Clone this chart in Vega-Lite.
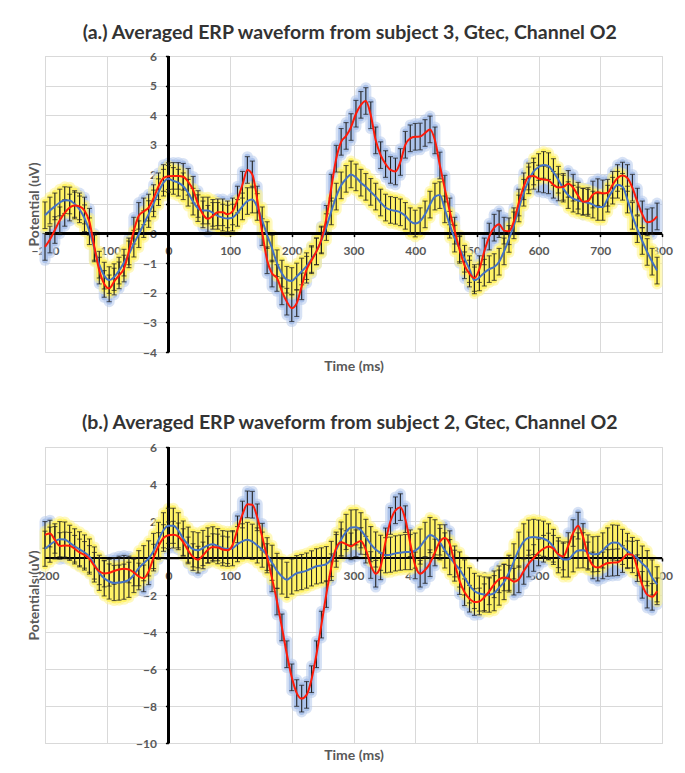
{
"$schema": "https://vega.github.io/schema/vega-lite/v6.json",
"background": "white",
"padding": {"left": 26, "top": 22, "right": 5, "bottom": 5},
"spacing": 38,
"config": {
  "font": "Lato",
  "view": {"stroke": "#D9D9D9", "strokeWidth": 1},
  "axis": {"gridColor": "#D9D9D9", "gridWidth": 1, "domainColor": "#000000", "domainWidth": 1.6, "tickColor": "#000000", "tickWidth": 1.5, "labelFont": "Lato", "labelFontSize": 12, "labelFontWeight": "bold", "labelColor": "#595959", "titleFont": "Lato", "titleFontSize": 14, "titleFontWeight": "bold", "titleColor": "#595959", "labelFlush": false, "labelOverlap": false, "labelBound": false},
  "title": {"font": "Lato", "fontSize": 19.5, "fontWeight": "bold", "color": "#333333", "anchor": "middle", "frame": "bounds"}
},
"datasets": {
"a": [
{"t":-200,"r":-0.45,"b":0.62,"re":0.45,"be":0.45},
{"t":-192,"r":-0.2,"b":0.78,"re":0.45,"be":0.45},
{"t":-184,"r":0.12,"b":0.92,"re":0.45,"be":0.45},
{"t":-176,"r":0.45,"b":1.05,"re":0.45,"be":0.45},
{"t":-168,"r":0.7,"b":1.13,"re":0.45,"be":0.45},
{"t":-160,"r":0.88,"b":1.12,"re":0.45,"be":0.45},
{"t":-152,"r":0.95,"b":1.0,"re":0.45,"be":0.45},
{"t":-144,"r":0.92,"b":0.82,"re":0.45,"be":0.45},
{"t":-136,"r":0.78,"b":0.52,"re":0.45,"be":0.45},
{"t":-128,"r":0.4,"b":0.08,"re":0.45,"be":0.45},
{"t":-120,"r":-0.45,"b":-0.5,"re":0.45,"be":0.45},
{"t":-112,"r":-1.25,"b":-1.05,"re":0.45,"be":0.45},
{"t":-104,"r":-1.7,"b":-1.42,"re":0.45,"be":0.45},
{"t":-96,"r":-1.85,"b":-1.57,"re":0.45,"be":0.45},
{"t":-88,"r":-1.62,"b":-1.47,"re":0.45,"be":0.45},
{"t":-80,"r":-1.41,"b":-1.25,"re":0.45,"be":0.45},
{"t":-72,"r":-1.18,"b":-0.98,"re":0.45,"be":0.45},
{"t":-64,"r":-0.6,"b":-0.7,"re":0.45,"be":0.45},
{"t":-56,"r":0.1,"b":-0.34,"re":0.45,"be":0.45},
{"t":-48,"r":0.6,"b":-0.02,"re":0.45,"be":0.45},
{"t":-40,"r":0.75,"b":0.32,"re":0.45,"be":0.45},
{"t":-32,"r":0.88,"b":0.66,"re":0.45,"be":0.45},
{"t":-24,"r":1.2,"b":1.02,"re":0.45,"be":0.45},
{"t":-16,"r":1.6,"b":1.4,"re":0.45,"be":0.45},
{"t":-8,"r":1.88,"b":1.72,"re":0.45,"be":0.45},
{"t":0,"r":1.94,"b":1.85,"re":0.45,"be":0.45},
{"t":8,"r":1.95,"b":1.78,"re":0.45,"be":0.45},
{"t":16,"r":1.95,"b":1.72,"re":0.45,"be":0.45},
{"t":24,"r":1.92,"b":1.6,"re":0.45,"be":0.45},
{"t":32,"r":1.75,"b":1.38,"re":0.45,"be":0.45},
{"t":40,"r":1.48,"b":1.08,"re":0.45,"be":0.45},
{"t":48,"r":1.0,"b":0.86,"re":0.45,"be":0.45},
{"t":56,"r":0.65,"b":0.78,"re":0.45,"be":0.45},
{"t":64,"r":0.5,"b":0.78,"re":0.45,"be":0.45},
{"t":72,"r":0.6,"b":0.7,"re":0.45,"be":0.45},
{"t":80,"r":0.72,"b":0.6,"re":0.45,"be":0.45},
{"t":88,"r":0.72,"b":0.54,"re":0.45,"be":0.45},
{"t":96,"r":0.65,"b":0.51,"re":0.45,"be":0.45},
{"t":104,"r":0.75,"b":0.54,"re":0.45,"be":0.45},
{"t":112,"r":1.15,"b":0.7,"re":0.45,"be":0.45},
{"t":120,"r":1.65,"b":0.92,"re":0.45,"be":0.45},
{"t":128,"r":2.15,"b":1.1,"re":0.45,"be":0.45},
{"t":136,"r":2.0,"b":1.15,"re":0.45,"be":0.45},
{"t":144,"r":1.15,"b":0.9,"re":0.45,"be":0.45},
{"t":152,"r":0.05,"b":0.45,"re":0.45,"be":0.45},
{"t":160,"r":-0.9,"b":-0.05,"re":0.45,"be":0.45},
{"t":168,"r":-1.35,"b":-0.5,"re":0.45,"be":0.45},
{"t":176,"r":-1.5,"b":-1.0,"re":0.45,"be":0.45},
{"t":184,"r":-1.95,"b":-1.35,"re":0.45,"be":0.45},
{"t":192,"r":-2.3,"b":-1.56,"re":0.45,"be":0.45},
{"t":200,"r":-2.52,"b":-1.6,"re":0.45,"be":0.45},
{"t":208,"r":-2.35,"b":-1.45,"re":0.45,"be":0.45},
{"t":216,"r":-1.78,"b":-1.28,"re":0.45,"be":0.45},
{"t":224,"r":-1.22,"b":-1.1,"re":0.45,"be":0.45},
{"t":232,"r":-0.9,"b":-0.86,"re":0.45,"be":0.45},
{"t":240,"r":-0.6,"b":-0.6,"re":0.45,"be":0.45},
{"t":248,"r":-0.2,"b":-0.23,"re":0.45,"be":0.45},
{"t":256,"r":0.5,"b":0.22,"re":0.45,"be":0.45},
{"t":264,"r":1.55,"b":0.75,"re":0.45,"be":0.45},
{"t":272,"r":2.53,"b":1.25,"re":0.45,"be":0.45},
{"t":280,"r":3.1,"b":1.63,"re":0.45,"be":0.45},
{"t":288,"r":3.3,"b":1.85,"re":0.45,"be":0.45},
{"t":296,"r":3.6,"b":2.0,"re":0.45,"be":0.45},
{"t":304,"r":4.05,"b":1.9,"re":0.45,"be":0.45},
{"t":312,"r":4.35,"b":1.72,"re":0.45,"be":0.45},
{"t":320,"r":4.48,"b":1.58,"re":0.45,"be":0.45},
{"t":328,"r":4.0,"b":1.41,"re":0.45,"be":0.45},
{"t":336,"r":3.15,"b":1.25,"re":0.45,"be":0.45},
{"t":344,"r":2.65,"b":1.05,"re":0.45,"be":0.45},
{"t":352,"r":2.35,"b":0.88,"re":0.45,"be":0.45},
{"t":360,"r":2.15,"b":0.8,"re":0.45,"be":0.45},
{"t":368,"r":2.1,"b":0.77,"re":0.45,"be":0.45},
{"t":376,"r":2.42,"b":0.72,"re":0.45,"be":0.45},
{"t":384,"r":3.0,"b":0.6,"re":0.45,"be":0.45},
{"t":392,"r":3.22,"b":0.42,"re":0.45,"be":0.45},
{"t":400,"r":3.27,"b":0.34,"re":0.45,"be":0.45},
{"t":408,"r":3.28,"b":0.42,"re":0.45,"be":0.45},
{"t":416,"r":3.4,"b":0.65,"re":0.45,"be":0.45},
{"t":424,"r":3.52,"b":0.98,"re":0.45,"be":0.45},
{"t":432,"r":3.15,"b":1.25,"re":0.45,"be":0.45},
{"t":440,"r":2.3,"b":1.3,"re":0.45,"be":0.45},
{"t":448,"r":1.52,"b":0.82,"re":0.45,"be":0.45},
{"t":456,"r":0.75,"b":0.3,"re":0.45,"be":0.45},
{"t":464,"r":0.1,"b":-0.17,"re":0.45,"be":0.45},
{"t":472,"r":-0.55,"b":-0.5,"re":0.45,"be":0.45},
{"t":480,"r":-1.07,"b":-0.85,"re":0.45,"be":0.45},
{"t":488,"r":-1.35,"b":-1.2,"re":0.45,"be":0.45},
{"t":496,"r":-1.5,"b":-1.58,"re":0.45,"be":0.45},
{"t":504,"r":-1.2,"b":-1.48,"re":0.45,"be":0.45},
{"t":512,"r":-0.6,"b":-1.32,"re":0.45,"be":0.45},
{"t":520,"r":-0.1,"b":-1.2,"re":0.45,"be":0.45},
{"t":528,"r":0.2,"b":-1.13,"re":0.45,"be":0.45},
{"t":536,"r":0.32,"b":-0.95,"re":0.45,"be":0.45},
{"t":544,"r":0.1,"b":-0.6,"re":0.45,"be":0.45},
{"t":552,"r":0.08,"b":-0.18,"re":0.45,"be":0.45},
{"t":560,"r":0.42,"b":0.28,"re":0.45,"be":0.45},
{"t":568,"r":1.05,"b":0.85,"re":0.45,"be":0.45},
{"t":576,"r":1.6,"b":1.38,"re":0.45,"be":0.45},
{"t":584,"r":1.93,"b":1.8,"re":0.45,"be":0.45},
{"t":592,"r":1.95,"b":2.1,"re":0.45,"be":0.45},
{"t":600,"r":1.86,"b":2.25,"re":0.45,"be":0.45},
{"t":608,"r":1.83,"b":2.32,"re":0.45,"be":0.45},
{"t":616,"r":1.8,"b":2.28,"re":0.45,"be":0.45},
{"t":624,"r":1.65,"b":2.08,"re":0.45,"be":0.45},
{"t":632,"r":1.56,"b":1.82,"re":0.45,"be":0.45},
{"t":640,"r":1.58,"b":1.52,"re":0.45,"be":0.45},
{"t":648,"r":1.68,"b":1.3,"re":0.45,"be":0.45},
{"t":656,"r":1.55,"b":1.18,"re":0.45,"be":0.45},
{"t":664,"r":1.28,"b":1.12,"re":0.45,"be":0.45},
{"t":672,"r":1.08,"b":1.08,"re":0.45,"be":0.45},
{"t":680,"r":1.1,"b":1.04,"re":0.45,"be":0.45},
{"t":688,"r":1.32,"b":0.98,"re":0.45,"be":0.45},
{"t":696,"r":1.4,"b":0.9,"re":0.45,"be":0.45},
{"t":704,"r":1.36,"b":0.9,"re":0.45,"be":0.45},
{"t":712,"r":1.38,"b":1.18,"re":0.45,"be":0.45},
{"t":720,"r":1.65,"b":1.45,"re":0.45,"be":0.45},
{"t":728,"r":1.88,"b":1.65,"re":0.45,"be":0.45},
{"t":736,"r":1.96,"b":1.58,"re":0.45,"be":0.45},
{"t":744,"r":1.88,"b":1.15,"re":0.45,"be":0.45},
{"t":752,"r":1.55,"b":0.6,"re":0.45,"be":0.45},
{"t":760,"r":1.08,"b":0.15,"re":0.45,"be":0.45},
{"t":768,"r":0.65,"b":-0.25,"re":0.45,"be":0.45},
{"t":776,"r":0.38,"b":-0.62,"re":0.45,"be":0.45},
{"t":784,"r":0.42,"b":-0.95,"re":0.45,"be":0.45},
{"t":792,"r":0.58,"b":-1.25,"re":0.45,"be":0.45}
],
"b": [
{"t":-200,"r":1.25,"b":0.5,"re":0.72,"be":0.95},
{"t":-192,"r":1.32,"b":0.72,"re":0.72,"be":0.95},
{"t":-184,"r":0.98,"b":0.9,"re":0.72,"be":0.95},
{"t":-176,"r":0.65,"b":1.02,"re":0.72,"be":0.95},
{"t":-168,"r":0.68,"b":1.0,"re":0.72,"be":0.95},
{"t":-160,"r":0.66,"b":0.82,"re":0.72,"be":0.95},
{"t":-152,"r":0.5,"b":0.63,"re":0.72,"be":0.95},
{"t":-144,"r":0.3,"b":0.47,"re":0.72,"be":0.95},
{"t":-136,"r":0.17,"b":0.3,"re":0.72,"be":0.95},
{"t":-128,"r":-0.05,"b":0.08,"re":0.72,"be":0.95},
{"t":-120,"r":-0.42,"b":-0.35,"re":0.72,"be":0.95},
{"t":-112,"r":-0.72,"b":-0.8,"re":0.72,"be":0.95},
{"t":-104,"r":-0.84,"b":-1.1,"re":0.72,"be":0.95},
{"t":-96,"r":-0.8,"b":-1.27,"re":0.72,"be":0.95},
{"t":-88,"r":-0.7,"b":-1.35,"re":0.72,"be":0.95},
{"t":-80,"r":-0.62,"b":-1.33,"re":0.72,"be":0.95},
{"t":-72,"r":-0.58,"b":-1.28,"re":0.72,"be":0.95},
{"t":-64,"r":-0.62,"b":-1.18,"re":0.72,"be":0.95},
{"t":-56,"r":-0.78,"b":-0.92,"re":0.72,"be":0.95},
{"t":-48,"r":-1.0,"b":-0.55,"re":0.72,"be":0.95},
{"t":-40,"r":-1.1,"b":-0.28,"re":0.72,"be":0.95},
{"t":-32,"r":-0.72,"b":-0.02,"re":0.72,"be":0.95},
{"t":-24,"r":0.02,"b":0.38,"re":0.72,"be":0.95},
{"t":-16,"r":0.65,"b":0.98,"re":0.72,"be":0.95},
{"t":-8,"r":1.08,"b":1.5,"re":0.72,"be":0.95},
{"t":0,"r":1.23,"b":1.74,"re":0.72,"be":0.95},
{"t":8,"r":1.26,"b":1.74,"re":0.72,"be":0.95},
{"t":16,"r":1.17,"b":1.5,"re":0.72,"be":0.95},
{"t":24,"r":0.86,"b":1.05,"re":0.72,"be":0.95},
{"t":32,"r":0.41,"b":0.72,"re":0.72,"be":0.95},
{"t":40,"r":0.05,"b":0.47,"re":0.72,"be":0.95},
{"t":48,"r":-0.09,"b":0.42,"re":0.72,"be":0.95},
{"t":56,"r":0.14,"b":0.54,"re":0.72,"be":0.95},
{"t":64,"r":0.45,"b":0.68,"re":0.72,"be":0.95},
{"t":72,"r":0.59,"b":0.74,"re":0.72,"be":0.95},
{"t":80,"r":0.57,"b":0.64,"re":0.72,"be":0.95},
{"t":88,"r":0.46,"b":0.53,"re":0.72,"be":0.95},
{"t":96,"r":0.42,"b":0.5,"re":0.72,"be":0.95},
{"t":104,"r":0.7,"b":0.53,"re":0.72,"be":0.95},
{"t":112,"r":1.55,"b":0.75,"re":0.72,"be":0.95},
{"t":120,"r":2.35,"b":0.9,"re":0.72,"be":0.95},
{"t":128,"r":2.9,"b":0.98,"re":0.72,"be":0.95},
{"t":136,"r":2.88,"b":0.88,"re":0.72,"be":0.95},
{"t":144,"r":2.2,"b":0.68,"re":0.72,"be":0.95},
{"t":152,"r":1.15,"b":0.45,"re":0.72,"be":0.95},
{"t":160,"r":0.05,"b":0.15,"re":0.72,"be":0.95},
{"t":168,"r":-1.1,"b":-0.26,"re":0.72,"be":0.95},
{"t":176,"r":-2.35,"b":-0.7,"re":0.72,"be":0.95},
{"t":184,"r":-3.75,"b":-1.0,"re":0.72,"be":0.95},
{"t":192,"r":-5.2,"b":-1.18,"re":0.72,"be":0.95},
{"t":200,"r":-6.45,"b":-1.0,"re":0.72,"be":0.95},
{"t":208,"r":-7.3,"b":-0.82,"re":0.72,"be":0.95},
{"t":216,"r":-7.6,"b":-0.76,"re":0.72,"be":0.95},
{"t":224,"r":-7.4,"b":-0.68,"re":0.72,"be":0.95},
{"t":232,"r":-6.55,"b":-0.56,"re":0.72,"be":0.95},
{"t":240,"r":-5.2,"b":-0.45,"re":0.72,"be":0.95},
{"t":248,"r":-3.6,"b":-0.4,"re":0.72,"be":0.95},
{"t":256,"r":-1.95,"b":-0.33,"re":0.72,"be":0.95},
{"t":264,"r":-0.5,"b":-0.05,"re":0.72,"be":0.95},
{"t":272,"r":0.55,"b":0.45,"re":0.72,"be":0.95},
{"t":280,"r":0.85,"b":1.0,"re":0.72,"be":0.95},
{"t":288,"r":0.75,"b":1.41,"re":0.72,"be":0.95},
{"t":296,"r":0.63,"b":1.65,"re":0.72,"be":0.95},
{"t":304,"r":0.8,"b":1.66,"re":0.72,"be":0.95},
{"t":312,"r":0.92,"b":1.5,"re":0.72,"be":0.95},
{"t":320,"r":0.45,"b":1.14,"re":0.72,"be":0.95},
{"t":328,"r":-0.38,"b":0.75,"re":0.72,"be":0.95},
{"t":336,"r":-0.85,"b":0.46,"re":0.72,"be":0.95},
{"t":344,"r":-0.45,"b":0.28,"re":0.72,"be":0.95},
{"t":352,"r":0.9,"b":0.15,"re":0.72,"be":0.95},
{"t":360,"r":2.0,"b":0.18,"re":0.72,"be":0.95},
{"t":368,"r":2.58,"b":0.25,"re":0.72,"be":0.95},
{"t":376,"r":2.75,"b":0.29,"re":0.72,"be":0.95},
{"t":384,"r":2.1,"b":0.32,"re":0.72,"be":0.95},
{"t":392,"r":0.8,"b":0.32,"re":0.72,"be":0.95},
{"t":400,"r":-0.4,"b":0.4,"re":0.72,"be":0.95},
{"t":408,"r":-0.85,"b":0.62,"re":0.72,"be":0.95},
{"t":416,"r":-0.65,"b":0.98,"re":0.72,"be":0.95},
{"t":424,"r":-0.28,"b":1.24,"re":0.72,"be":0.95},
{"t":432,"r":0.3,"b":1.12,"re":0.72,"be":0.95},
{"t":440,"r":0.88,"b":0.85,"re":0.72,"be":0.95},
{"t":448,"r":1.08,"b":0.41,"re":0.72,"be":0.95},
{"t":456,"r":0.75,"b":0.05,"re":0.72,"be":0.95},
{"t":464,"r":-0.3,"b":-0.3,"re":0.72,"be":0.95},
{"t":472,"r":-1.25,"b":-0.62,"re":0.72,"be":0.95},
{"t":480,"r":-1.85,"b":-1.05,"re":0.72,"be":0.95},
{"t":488,"r":-2.2,"b":-1.48,"re":0.72,"be":0.95},
{"t":496,"r":-2.38,"b":-1.78,"re":0.72,"be":0.95},
{"t":504,"r":-2.35,"b":-1.92,"re":0.72,"be":0.95},
{"t":512,"r":-2.12,"b":-1.97,"re":0.72,"be":0.95},
{"t":520,"r":-1.8,"b":-1.98,"re":0.72,"be":0.95},
{"t":528,"r":-1.42,"b":-1.9,"re":0.72,"be":0.95},
{"t":536,"r":-1.15,"b":-1.6,"re":0.72,"be":0.95},
{"t":544,"r":-1.05,"b":-1.3,"re":0.72,"be":0.95},
{"t":552,"r":-1.12,"b":-0.8,"re":0.72,"be":0.95},
{"t":560,"r":-1.28,"b":-0.18,"re":0.72,"be":0.95},
{"t":568,"r":-1.15,"b":0.45,"re":0.72,"be":0.95},
{"t":576,"r":-0.7,"b":0.9,"re":0.72,"be":0.95},
{"t":584,"r":-0.3,"b":1.1,"re":0.72,"be":0.95},
{"t":592,"r":0.0,"b":1.14,"re":0.72,"be":0.95},
{"t":600,"r":0.3,"b":1.1,"re":0.72,"be":0.95},
{"t":608,"r":0.5,"b":1.04,"re":0.72,"be":0.95},
{"t":616,"r":0.62,"b":0.9,"re":0.72,"be":0.95},
{"t":624,"r":0.5,"b":0.6,"re":0.72,"be":0.95},
{"t":632,"r":0.2,"b":0.15,"re":0.72,"be":0.95},
{"t":640,"r":0.08,"b":-0.08,"re":0.72,"be":0.95},
{"t":648,"r":0.65,"b":-0.08,"re":0.72,"be":0.95},
{"t":656,"r":1.35,"b":0.2,"re":0.72,"be":0.95},
{"t":664,"r":1.75,"b":0.41,"re":0.72,"be":0.95},
{"t":672,"r":1.14,"b":0.42,"re":0.72,"be":0.95},
{"t":680,"r":0.14,"b":0.3,"re":0.72,"be":0.95},
{"t":688,"r":-0.4,"b":0.2,"re":0.72,"be":0.95},
{"t":696,"r":-0.52,"b":0.22,"re":0.72,"be":0.95},
{"t":704,"r":-0.4,"b":0.41,"re":0.72,"be":0.95},
{"t":712,"r":-0.27,"b":0.68,"re":0.72,"be":0.95},
{"t":720,"r":-0.25,"b":0.84,"re":0.72,"be":0.95},
{"t":728,"r":-0.23,"b":0.82,"re":0.72,"be":0.95},
{"t":736,"r":-0.06,"b":0.6,"re":0.72,"be":0.95},
{"t":744,"r":0.2,"b":0.38,"re":0.72,"be":0.95},
{"t":752,"r":0.18,"b":0.16,"re":0.72,"be":0.95},
{"t":760,"r":-0.55,"b":0.0,"re":0.72,"be":0.95},
{"t":768,"r":-1.45,"b":-0.3,"re":0.72,"be":0.95},
{"t":776,"r":-1.98,"b":-0.55,"re":0.72,"be":0.95},
{"t":784,"r":-2.1,"b":-1.05,"re":0.72,"be":0.95},
{"t":792,"r":-1.8,"b":-1.42,"re":0.72,"be":0.95}
]
},
"vconcat": [
{
  "title": {"text": "(a.) Averaged ERP waveform from subject 3, Gtec, Channel O2", "offset": 7},
  "width": 617, "height": 296,
  "data": {"name": "a"},
  "layer": [
    {"mark": {"type": "errorbar", "ticks": false, "thickness": 11, "opacity": 0.55, "rule": {"color": "#B7CAEC", "strokeCap": "round"}},
     "encoding": {
       "x": {"field": "t", "type": "quantitative", "title": "Time (ms)", "scale": {"domain": [-200, 800], "nice": false, "zero": false},
             "axis": {"values": [-200,-100,0,100,200,300,400,500,600,700,800], "offset": -118.4, "titleY": 132.4, "titleBaseline": "middle", "labelPadding": 9, "tickSize": 3, "grid": true, "labelOverlap": false}},
       "y": {"field": "r", "type": "quantitative", "title": "Potential (uV)", "scale": {"domain": [-4, 6], "nice": false, "zero": false},
             "axis": {"values": [-4,-3,-2,-1,0,1,2,3,4,5,6], "offset": -123.4, "titleX": -134.4, "titleBaseline": "middle", "labelPadding": 9, "tickSize": 3, "grid": true, "labelOverlap": false}},
       "yError": {"field": "re"}}},
    {"mark": {"type": "errorbar", "ticks": false, "thickness": 6, "rule": {"color": "#ABC2EA", "strokeCap": "round"}},
     "encoding": {
       "x": {"field": "t", "type": "quantitative", "title": "Time (ms)", "scale": {"domain": [-200, 800], "nice": false, "zero": false},
             "axis": {"values": [-200,-100,0,100,200,300,400,500,600,700,800], "offset": -118.4, "titleY": 132.4, "titleBaseline": "middle", "labelPadding": 9, "tickSize": 3, "grid": true, "labelOverlap": false}},
       "y": {"field": "r", "type": "quantitative", "title": "Potential (uV)", "scale": {"domain": [-4, 6], "nice": false, "zero": false},
             "axis": {"values": [-4,-3,-2,-1,0,1,2,3,4,5,6], "offset": -123.4, "titleX": -134.4, "titleBaseline": "middle", "labelPadding": 9, "tickSize": 3, "grid": true, "labelOverlap": false}},
       "yError": {"field": "re"}}},
    {"mark": {"type": "errorbar", "ticks": false, "thickness": 11, "opacity": 0.55, "rule": {"color": "#FFF48A", "strokeCap": "round"}},
     "encoding": {
       "x": {"field": "t", "type": "quantitative", "title": "Time (ms)", "scale": {"domain": [-200, 800], "nice": false, "zero": false},
             "axis": {"values": [-200,-100,0,100,200,300,400,500,600,700,800], "offset": -118.4, "titleY": 132.4, "titleBaseline": "middle", "labelPadding": 9, "tickSize": 3, "grid": true, "labelOverlap": false}},
       "y": {"field": "b", "type": "quantitative", "title": "Potential (uV)", "scale": {"domain": [-4, 6], "nice": false, "zero": false},
             "axis": {"values": [-4,-3,-2,-1,0,1,2,3,4,5,6], "offset": -123.4, "titleX": -134.4, "titleBaseline": "middle", "labelPadding": 9, "tickSize": 3, "grid": true, "labelOverlap": false}},
       "yError": {"field": "be"}}},
    {"mark": {"type": "errorbar", "ticks": false, "thickness": 6, "rule": {"color": "#FFF266", "strokeCap": "round"}},
     "encoding": {
       "x": {"field": "t", "type": "quantitative", "title": "Time (ms)", "scale": {"domain": [-200, 800], "nice": false, "zero": false},
             "axis": {"values": [-200,-100,0,100,200,300,400,500,600,700,800], "offset": -118.4, "titleY": 132.4, "titleBaseline": "middle", "labelPadding": 9, "tickSize": 3, "grid": true, "labelOverlap": false}},
       "y": {"field": "b", "type": "quantitative", "title": "Potential (uV)", "scale": {"domain": [-4, 6], "nice": false, "zero": false},
             "axis": {"values": [-4,-3,-2,-1,0,1,2,3,4,5,6], "offset": -123.4, "titleX": -134.4, "titleBaseline": "middle", "labelPadding": 9, "tickSize": 3, "grid": true, "labelOverlap": false}},
       "yError": {"field": "be"}}},
    {"mark": {"type": "rule", "color": "#000000", "strokeWidth": 1.6},
     "encoding": {"y": {"datum": 0, "type": "quantitative", "title": "Potential (uV)", "scale": {"domain": [-4, 6], "nice": false, "zero": false},
             "axis": {"values": [-4,-3,-2,-1,0,1,2,3,4,5,6], "offset": -123.4, "titleX": -134.4, "titleBaseline": "middle", "labelPadding": 9, "tickSize": 3, "grid": true, "labelOverlap": false}}}},
    {"mark": {"type": "rule", "color": "#000000", "strokeWidth": 1.6},
     "encoding": {"x": {"datum": 0, "type": "quantitative", "title": "Time (ms)", "scale": {"domain": [-200, 800], "nice": false, "zero": false},
             "axis": {"values": [-200,-100,0,100,200,300,400,500,600,700,800], "offset": -118.4, "titleY": 132.4, "titleBaseline": "middle", "labelPadding": 9, "tickSize": 3, "grid": true, "labelOverlap": false}}}},
    {"mark": {"type": "errorbar", "ticks": true, "size": 5, "thickness": 1.1, "color": "#222222"},
     "encoding": {
       "x": {"field": "t", "type": "quantitative", "title": "Time (ms)", "scale": {"domain": [-200, 800], "nice": false, "zero": false},
             "axis": {"values": [-200,-100,0,100,200,300,400,500,600,700,800], "offset": -118.4, "titleY": 132.4, "titleBaseline": "middle", "labelPadding": 9, "tickSize": 3, "grid": true, "labelOverlap": false}},
       "y": {"field": "r", "type": "quantitative", "title": "Potential (uV)", "scale": {"domain": [-4, 6], "nice": false, "zero": false},
             "axis": {"values": [-4,-3,-2,-1,0,1,2,3,4,5,6], "offset": -123.4, "titleX": -134.4, "titleBaseline": "middle", "labelPadding": 9, "tickSize": 3, "grid": true, "labelOverlap": false}},
       "yError": {"field": "re"}}},
    {"mark": {"type": "errorbar", "ticks": true, "size": 5, "thickness": 1.1, "color": "#222222"},
     "encoding": {
       "x": {"field": "t", "type": "quantitative", "title": "Time (ms)", "scale": {"domain": [-200, 800], "nice": false, "zero": false},
             "axis": {"values": [-200,-100,0,100,200,300,400,500,600,700,800], "offset": -118.4, "titleY": 132.4, "titleBaseline": "middle", "labelPadding": 9, "tickSize": 3, "grid": true, "labelOverlap": false}},
       "y": {"field": "b", "type": "quantitative", "title": "Potential (uV)", "scale": {"domain": [-4, 6], "nice": false, "zero": false},
             "axis": {"values": [-4,-3,-2,-1,0,1,2,3,4,5,6], "offset": -123.4, "titleX": -134.4, "titleBaseline": "middle", "labelPadding": 9, "tickSize": 3, "grid": true, "labelOverlap": false}},
       "yError": {"field": "be"}}},
    {"mark": {"type": "line", "interpolate": "monotone", "color": "#4472C4", "strokeWidth": 2},
     "encoding": {
       "x": {"field": "t", "type": "quantitative", "title": "Time (ms)", "scale": {"domain": [-200, 800], "nice": false, "zero": false},
             "axis": {"values": [-200,-100,0,100,200,300,400,500,600,700,800], "offset": -118.4, "titleY": 132.4, "titleBaseline": "middle", "labelPadding": 9, "tickSize": 3, "grid": true, "labelOverlap": false}},
       "y": {"field": "b", "type": "quantitative", "title": "Potential (uV)", "scale": {"domain": [-4, 6], "nice": false, "zero": false},
             "axis": {"values": [-4,-3,-2,-1,0,1,2,3,4,5,6], "offset": -123.4, "titleX": -134.4, "titleBaseline": "middle", "labelPadding": 9, "tickSize": 3, "grid": true, "labelOverlap": false}}}},
    {"mark": {"type": "line", "interpolate": "monotone", "color": "#FF1A0A", "strokeWidth": 2},
     "encoding": {
       "x": {"field": "t", "type": "quantitative", "title": "Time (ms)", "scale": {"domain": [-200, 800], "nice": false, "zero": false},
             "axis": {"values": [-200,-100,0,100,200,300,400,500,600,700,800], "offset": -118.4, "titleY": 132.4, "titleBaseline": "middle", "labelPadding": 9, "tickSize": 3, "grid": true, "labelOverlap": false}},
       "y": {"field": "r", "type": "quantitative", "title": "Potential (uV)", "scale": {"domain": [-4, 6], "nice": false, "zero": false},
             "axis": {"values": [-4,-3,-2,-1,0,1,2,3,4,5,6], "offset": -123.4, "titleX": -134.4, "titleBaseline": "middle", "labelPadding": 9, "tickSize": 3, "grid": true, "labelOverlap": false}}}}
  ]
},
{
  "title": {"text": "(b.) Averaged ERP waveform from subject 2, Gtec, Channel O2", "offset": 8},
  "width": 617, "height": 296,
  "data": {"name": "b"},
  "layer": [
    {"mark": {"type": "errorbar", "ticks": false, "thickness": 11, "opacity": 0.55, "rule": {"color": "#B7CAEC", "strokeCap": "round"}},
     "encoding": {
       "x": {"field": "t", "type": "quantitative", "title": "Time (ms)", "scale": {"domain": [-200, 800], "nice": false, "zero": false},
             "axis": {"values": [-200,-100,0,100,200,300,400,500,600,700,800], "offset": -185, "titleY": 197, "titleBaseline": "middle", "labelPadding": 9, "tickSize": 3, "grid": true, "labelOverlap": false}},
       "y": {"field": "r", "type": "quantitative", "title": "Potentials (uV)", "scale": {"domain": [-10, 6], "nice": false, "zero": false},
             "axis": {"values": [-10,-8,-6,-4,-2,0,2,4,6], "offset": -123.4, "titleX": -134.4, "titleBaseline": "middle", "labelPadding": 9, "tickSize": 3, "grid": true, "labelOverlap": false}},
       "yError": {"field": "re"}}},
    {"mark": {"type": "errorbar", "ticks": false, "thickness": 6, "rule": {"color": "#ABC2EA", "strokeCap": "round"}},
     "encoding": {
       "x": {"field": "t", "type": "quantitative", "title": "Time (ms)", "scale": {"domain": [-200, 800], "nice": false, "zero": false},
             "axis": {"values": [-200,-100,0,100,200,300,400,500,600,700,800], "offset": -185, "titleY": 197, "titleBaseline": "middle", "labelPadding": 9, "tickSize": 3, "grid": true, "labelOverlap": false}},
       "y": {"field": "r", "type": "quantitative", "title": "Potentials (uV)", "scale": {"domain": [-10, 6], "nice": false, "zero": false},
             "axis": {"values": [-10,-8,-6,-4,-2,0,2,4,6], "offset": -123.4, "titleX": -134.4, "titleBaseline": "middle", "labelPadding": 9, "tickSize": 3, "grid": true, "labelOverlap": false}},
       "yError": {"field": "re"}}},
    {"mark": {"type": "errorbar", "ticks": false, "thickness": 11, "opacity": 0.55, "rule": {"color": "#FFF48A", "strokeCap": "round"}},
     "encoding": {
       "x": {"field": "t", "type": "quantitative", "title": "Time (ms)", "scale": {"domain": [-200, 800], "nice": false, "zero": false},
             "axis": {"values": [-200,-100,0,100,200,300,400,500,600,700,800], "offset": -185, "titleY": 197, "titleBaseline": "middle", "labelPadding": 9, "tickSize": 3, "grid": true, "labelOverlap": false}},
       "y": {"field": "b", "type": "quantitative", "title": "Potentials (uV)", "scale": {"domain": [-10, 6], "nice": false, "zero": false},
             "axis": {"values": [-10,-8,-6,-4,-2,0,2,4,6], "offset": -123.4, "titleX": -134.4, "titleBaseline": "middle", "labelPadding": 9, "tickSize": 3, "grid": true, "labelOverlap": false}},
       "yError": {"field": "be"}}},
    {"mark": {"type": "errorbar", "ticks": false, "thickness": 6, "rule": {"color": "#FFF266", "strokeCap": "round"}},
     "encoding": {
       "x": {"field": "t", "type": "quantitative", "title": "Time (ms)", "scale": {"domain": [-200, 800], "nice": false, "zero": false},
             "axis": {"values": [-200,-100,0,100,200,300,400,500,600,700,800], "offset": -185, "titleY": 197, "titleBaseline": "middle", "labelPadding": 9, "tickSize": 3, "grid": true, "labelOverlap": false}},
       "y": {"field": "b", "type": "quantitative", "title": "Potentials (uV)", "scale": {"domain": [-10, 6], "nice": false, "zero": false},
             "axis": {"values": [-10,-8,-6,-4,-2,0,2,4,6], "offset": -123.4, "titleX": -134.4, "titleBaseline": "middle", "labelPadding": 9, "tickSize": 3, "grid": true, "labelOverlap": false}},
       "yError": {"field": "be"}}},
    {"mark": {"type": "rule", "color": "#000000", "strokeWidth": 1.6},
     "encoding": {"y": {"datum": 0, "type": "quantitative", "title": "Potentials (uV)", "scale": {"domain": [-10, 6], "nice": false, "zero": false},
             "axis": {"values": [-10,-8,-6,-4,-2,0,2,4,6], "offset": -123.4, "titleX": -134.4, "titleBaseline": "middle", "labelPadding": 9, "tickSize": 3, "grid": true, "labelOverlap": false}}}},
    {"mark": {"type": "rule", "color": "#000000", "strokeWidth": 1.6},
     "encoding": {"x": {"datum": 0, "type": "quantitative", "title": "Time (ms)", "scale": {"domain": [-200, 800], "nice": false, "zero": false},
             "axis": {"values": [-200,-100,0,100,200,300,400,500,600,700,800], "offset": -185, "titleY": 197, "titleBaseline": "middle", "labelPadding": 9, "tickSize": 3, "grid": true, "labelOverlap": false}}}},
    {"mark": {"type": "errorbar", "ticks": true, "size": 5, "thickness": 1.1, "color": "#222222"},
     "encoding": {
       "x": {"field": "t", "type": "quantitative", "title": "Time (ms)", "scale": {"domain": [-200, 800], "nice": false, "zero": false},
             "axis": {"values": [-200,-100,0,100,200,300,400,500,600,700,800], "offset": -185, "titleY": 197, "titleBaseline": "middle", "labelPadding": 9, "tickSize": 3, "grid": true, "labelOverlap": false}},
       "y": {"field": "r", "type": "quantitative", "title": "Potentials (uV)", "scale": {"domain": [-10, 6], "nice": false, "zero": false},
             "axis": {"values": [-10,-8,-6,-4,-2,0,2,4,6], "offset": -123.4, "titleX": -134.4, "titleBaseline": "middle", "labelPadding": 9, "tickSize": 3, "grid": true, "labelOverlap": false}},
       "yError": {"field": "re"}}},
    {"mark": {"type": "errorbar", "ticks": true, "size": 5, "thickness": 1.1, "color": "#222222"},
     "encoding": {
       "x": {"field": "t", "type": "quantitative", "title": "Time (ms)", "scale": {"domain": [-200, 800], "nice": false, "zero": false},
             "axis": {"values": [-200,-100,0,100,200,300,400,500,600,700,800], "offset": -185, "titleY": 197, "titleBaseline": "middle", "labelPadding": 9, "tickSize": 3, "grid": true, "labelOverlap": false}},
       "y": {"field": "b", "type": "quantitative", "title": "Potentials (uV)", "scale": {"domain": [-10, 6], "nice": false, "zero": false},
             "axis": {"values": [-10,-8,-6,-4,-2,0,2,4,6], "offset": -123.4, "titleX": -134.4, "titleBaseline": "middle", "labelPadding": 9, "tickSize": 3, "grid": true, "labelOverlap": false}},
       "yError": {"field": "be"}}},
    {"mark": {"type": "line", "interpolate": "monotone", "color": "#4472C4", "strokeWidth": 2},
     "encoding": {
       "x": {"field": "t", "type": "quantitative", "title": "Time (ms)", "scale": {"domain": [-200, 800], "nice": false, "zero": false},
             "axis": {"values": [-200,-100,0,100,200,300,400,500,600,700,800], "offset": -185, "titleY": 197, "titleBaseline": "middle", "labelPadding": 9, "tickSize": 3, "grid": true, "labelOverlap": false}},
       "y": {"field": "b", "type": "quantitative", "title": "Potentials (uV)", "scale": {"domain": [-10, 6], "nice": false, "zero": false},
             "axis": {"values": [-10,-8,-6,-4,-2,0,2,4,6], "offset": -123.4, "titleX": -134.4, "titleBaseline": "middle", "labelPadding": 9, "tickSize": 3, "grid": true, "labelOverlap": false}}}},
    {"mark": {"type": "line", "interpolate": "monotone", "color": "#FF1A0A", "strokeWidth": 2},
     "encoding": {
       "x": {"field": "t", "type": "quantitative", "title": "Time (ms)", "scale": {"domain": [-200, 800], "nice": false, "zero": false},
             "axis": {"values": [-200,-100,0,100,200,300,400,500,600,700,800], "offset": -185, "titleY": 197, "titleBaseline": "middle", "labelPadding": 9, "tickSize": 3, "grid": true, "labelOverlap": false}},
       "y": {"field": "r", "type": "quantitative", "title": "Potentials (uV)", "scale": {"domain": [-10, 6], "nice": false, "zero": false},
             "axis": {"values": [-10,-8,-6,-4,-2,0,2,4,6], "offset": -123.4, "titleX": -134.4, "titleBaseline": "middle", "labelPadding": 9, "tickSize": 3, "grid": true, "labelOverlap": false}}}}
  ]
}
]
}
